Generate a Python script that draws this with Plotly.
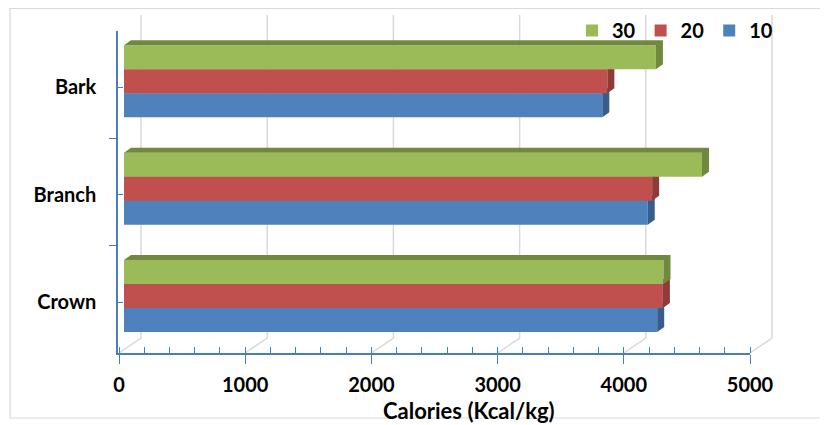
import plotly.graph_objects as go

# ---------------- data ----------------
categories = ["Bark", "Branch", "Crown"]          # top to bottom
series_names = ["10", "20", "30"]
values_10 = [3790, 4150, 4225]
values_20 = [3830, 4185, 4270]
values_30 = [4215, 4580, 4275]
x_ticks = [0, 1000, 2000, 3000, 4000, 5000]
x_title = "Calories (Kcal/kg)"

series_values = [values_10, values_20, values_30]
front_colors = ["#4F81BD", "#C0504D", "#9BBB59"]
dark_colors = ["#385D8A", "#8E3B39", "#71893F"]

# ---------------- geometry helpers ----------------
OFF = 8                        # page body margin
W, H = 828 - OFF, 425 - OFF
PX_L, PX_R = 118, 750          # front plot area (window pixels)
PY_T, PY_B = 31, 353
X_RANGE = [-8, 5000]
Y_RANGE = [-0.5, 2.5]
ppx = (PX_R - PX_L) / (X_RANGE[1] - X_RANGE[0])   # pixels per x unit
ppy = (PY_B - PY_T) / (Y_RANGE[1] - Y_RANGE[0])   # pixels per y unit

def fx(px):
    return (px - OFF) / W

def fy(py):
    return (H - (py - OFF)) / H

def vx_px(v):
    return PX_L + (v - X_RANGE[0]) * ppx

n = len(categories)
ypos = [n - 1 - i for i in range(n)]     # Bark on top
label_pos = [p - 0.025 for p in ypos]

bar_w = 0.2235
offsets = [-0.304, -0.0805, 0.143]
shift_units = 5 / ppx                     # bar front face sits slightly behind axis
dx = 7 / ppx
dy = 5 / ppy

fig = go.Figure()

axis_font = dict(family="Lato", size=20, color="#000000", weight="bold")
AXC = "#4A7EBB"

# main (front) axes
fig.update_layout(
    xaxis=dict(domain=[fx(PX_L), fx(PX_R)], range=X_RANGE, tickvals=x_ticks,
               automargin=False,
               showgrid=False, zeroline=False, showline=True, linecolor=AXC,
               linewidth=1.5, ticks="outside", ticklen=9, tickcolor=AXC,
               tickwidth=1.2, tickfont=axis_font, ticklabelstandoff=4,
               minor=dict(dtick=200, ticks="inside", ticklen=6, tickcolor=AXC,
                          tickwidth=1, showgrid=False),
               fixedrange=True),
    yaxis=dict(domain=[fy(PY_B), fy(PY_T)], range=Y_RANGE, tickvals=label_pos,
               automargin=False,
               ticktext=categories, showgrid=False, zeroline=False, showline=True,
               linecolor=AXC, linewidth=1.5, ticks="inside", ticklen=5,
               tickcolor=AXC, tickfont=axis_font, ticklabelstandoff=16,
               minor=dict(tickvals=[-0.5, 0.5, 1.5, 2.5], ticks="outside", ticklen=7,
                          tickcolor=AXC, tickwidth=1.2, showgrid=False),
               fixedrange=True),
)

# invisible dummy trace to anchor main axes
fig.add_trace(go.Scatter(x=[0], y=[0], mode="markers", marker=dict(opacity=0),
                         showlegend=False, hoverinfo="skip", xaxis="x", yaxis="y"))

# one overlay subplot per series so later series paint over earlier ones
for i, (name, vals) in enumerate(zip(series_names, series_values)):
    k = i + 2
    xa, ya = f"x{k}", f"y{k}"
    fig.update_layout(**{
        f"xaxis{k}": dict(overlaying="x", range=[X_RANGE[0] - shift_units, X_RANGE[1] - shift_units],
                          visible=False, fixedrange=True, automargin=False),
        f"yaxis{k}": dict(overlaying="y", range=Y_RANGE, visible=False, fixedrange=True,
                          automargin=False),
    })
    # front faces
    fig.add_trace(go.Bar(
        x=vals, y=ypos, orientation="h", width=bar_w, offset=offsets[i],
        marker=dict(color=front_colors[i], line=dict(width=0)),
        name=name, xaxis=xa, yaxis=ya, hoverinfo="x"))
    # top and right side faces
    px_, py_ = [], []
    for v, yc in zip(vals, ypos):
        top = yc + offsets[i] + bar_w
        bot = yc + offsets[i]
        # top face
        px_ += [0, dx, v + dx, v, 0, None]
        py_ += [top, top + dy, top + dy, top, top, None]
        # side face
        px_ += [v, v + dx, v + dx, v, v, None]
        py_ += [top, top + dy, bot + dy, bot, top, None]
    fig.add_trace(go.Scatter(
        x=px_, y=py_, mode="lines", fill="toself", fillcolor=dark_colors[i],
        line=dict(width=0, color=dark_colors[i]), showlegend=False,
        hoverinfo="skip", xaxis=xa, yaxis=ya))

# back-wall gridlines (styling): vertical on back wall, diagonal across floor
shapes = []
gx, gtop, gback = 22, 15, 338
for v in x_ticks:
    f = vx_px(v)
    b = f + gx
    shapes.append(dict(type="path", xref="paper", yref="paper", layer="below",
                       path=f"M {fx(f)} {fy(PY_B)} L {fx(b)} {fy(gback)} L {fx(b)} {fy(gtop)}",
                       line=dict(color="#D9D9D9", width=1.5)))
# chart border
shapes.append(dict(type="rect", xref="paper", yref="paper", x0=fx(10), x1=fx(840),
                   y0=fy(418), y1=fy(8.5), line=dict(color="#D9D9D9", width=1.2),
                   layer="below"))

fig.update_layout(
    width=W, height=H, autosize=False,
    margin=dict(l=0, r=0, t=0, b=0, pad=0),
    paper_bgcolor="white", plot_bgcolor="rgba(0,0,0,0)",
    shapes=shapes,
    annotations=[dict(text=x_title, xref="paper", yref="paper", x=fx(469), y=fy(410),
                      xanchor="center", yanchor="middle", showarrow=False,
                      font=dict(family="Lato", size=22, color="#000000", weight="bold"))],
    showlegend=True,
    legend=dict(orientation="h", x=fx(572), y=fy(11), xanchor="left", yanchor="top",
                traceorder="reversed", font=dict(family="Lato", size=20, color="#000000", weight="bold"),
                bgcolor="rgba(0,0,0,0)", itemwidth=30, tracegroupgap=0),
)

fig.write_html("out.html")
